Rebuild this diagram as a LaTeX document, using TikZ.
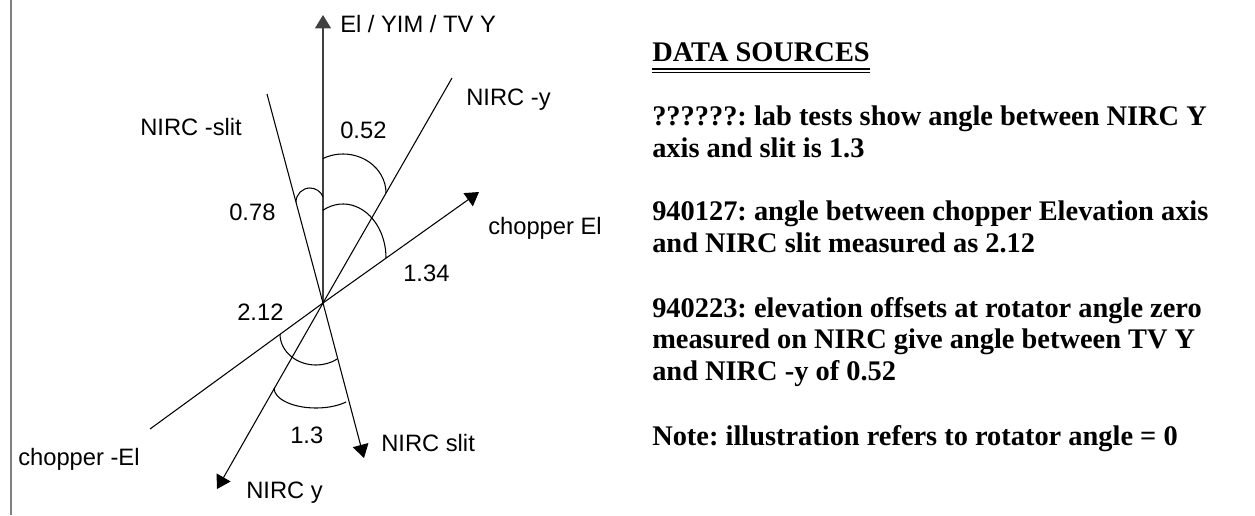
\documentclass[tikz,border=0pt]{standalone}
\usepackage{fontspec}
\setmainfont{Liberation Serif}
\setsansfont{Liberation Sans}
\usetikzlibrary{arrows.meta,calc}
\frenchspacing
\begin{document}
\begin{tikzpicture}[x=0.75pt,y=-0.75pt,
  ray/.style={line width=0.8pt, black},
  arrowray/.style={ray, -{Triangle[length=10pt,width=12pt]}},
  anglemark/.style={line width=0.8pt, black},
  lbl/.style={font=\sffamily\fontsize{17.8}{21}\selectfont, inner sep=0pt, anchor=base west},
  src/.style={font=\bfseries\fontsize{21.3}{25}\selectfont, inner sep=0pt, anchor=base west},
]
\useasboundingbox (0,0) rectangle (1255,515);

% frame edge on the left
\draw[line width=1.6pt, black!50] (11,0) -- (11,515);

% axes meeting at the rotator centre
\coordinate (O) at (323,303);
\coordinate (elTip) at (323,15);
\coordinate (nyTop) at (452,78);
\coordinate (nyTip) at (217,489);
\coordinate (nsTop) at (267,94);
\coordinate (nsTip) at (364,458);
\coordinate (chTip) at (479,192);
\coordinate (chEnd) at (150,429);

\draw[arrowray, black!75] (O) -- (elTip);
\draw[ray] (O) -- (nyTop);
\draw[arrowray] (O) -- (nyTip);
\draw[ray] (O) -- (nsTop);
\draw[arrowray] (O) -- (nsTip);
\draw[arrowray] (O) -- (chTip);
\draw[ray] (O) -- (chEnd);

% angle marks
\coordinate (a052) at (343,193);
\coordinate (a134) at (343,258);
\coordinate (a078) at (310,202);
\coordinate (a212) at (316,334);
\coordinate (a13)  at (316,388);
\draw[anglemark] (a052) ++(242:43 and 39) arc[start angle=242, end angle=360, x radius=43, y radius=39];
\draw[anglemark] (a134) ++(242:43 and 54) arc[start angle=242, end angle=360, x radius=43, y radius=54];
\draw[anglemark] (a078) ++(180:14 and 14) arc[start angle=180, end angle=338, x radius=14, y radius=14];
\draw[anglemark] (a212) ++(180:36 and 31) arc[start angle=180, end angle=54, x radius=36, y radius=31];
\draw[anglemark] (a13)  ++(180:42 and 20) arc[start angle=180, end angle=44, x radius=42, y radius=20];

% axis and angle labels
\node[lbl] (tEl)    at (340,32)  {El / YIM / TV Y};
\node[lbl] (tNmy)   at (466,105) {NIRC -y};
\node[lbl] (tNms)   at (140,135) {NIRC -slit};
\node[lbl] (t052)   at (340,138) {0.52};
\node[lbl] (t078)   at (229,220) {0.78};
\node[lbl] (tChEl)  at (488,234) {chopper El};
\node[lbl] (t134)   at (403,281) {1.34};
\node[lbl] (t212)   at (237,320) {2.12};
\node[lbl] (t13)    at (290,443) {1.3};
\node[lbl] (tNs)    at (381,451) {NIRC slit};
\node[lbl] (tChmEl) at (18,465)  {chopper -El};
\node[lbl] (tNy)    at (246,498) {NIRC y};

% data sources column
\node[src] (ds) at (652,61) {DATA SOURCES};
\draw[line width=1pt] ($(ds.base west)+(0,8)$) -- ($(ds.base east)+(0,8)$);
\draw[line width=1pt] ($(ds.base west)+(0,11.5)$) -- ($(ds.base east)+(0,11.5)$);
\node[src] (s1a) at (652,125) {??????: lab tests show angle between NIRC Y};
\node[src] (s1b) at (652,157) {axis and slit is 1.3};
\node[src] (s2a) at (652,220) {940127: angle between chopper Elevation axis};
\node[src] (s2b) at (652,252) {and NIRC slit measured as 2.12};
\node[src] (s3a) at (652,317) {940223: elevation offsets at rotator angle zero};
\node[src] (s3b) at (652,348) {measured on NIRC give angle between TV Y};
\node[src] (s3c) at (652,380) {and NIRC -y of 0.52};
\node[src] (s4)  at (652,445) {Note: illustration refers to rotator angle = 0};
\end{tikzpicture}
\end{document}
